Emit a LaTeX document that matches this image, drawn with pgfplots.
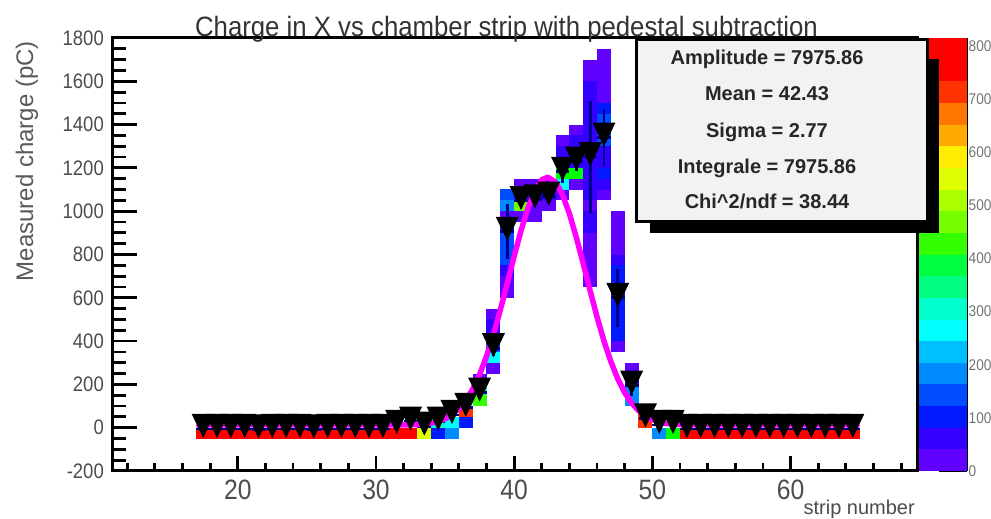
\documentclass[border=0pt]{standalone}
\usepackage{fontspec}
\setmainfont{Liberation Sans}
\newfontfamily\tickfont[FakeStretch=0.88]{Liberation Sans}
\newfontfamily\titlefont[FakeStretch=0.92]{Liberation Sans}
\usepackage{pgfplots}
\usepackage{pgfplotstable}
\pgfplotsset{compat=1.18}
\definecolor{navyerr}{RGB}{0,0,140}
\definecolor{fitmag}{RGB}{255,0,255}
\pgfplotsset{
  colormap={rootpal}{rgb255=(96,0,255) rgb255=(51,0,255) rgb255=(0,25,255) rgb255=(0,76,255)
    rgb255=(0,140,255) rgb255=(0,191,255) rgb255=(0,255,255) rgb255=(0,255,204)
    rgb255=(0,255,128) rgb255=(0,255,64) rgb255=(0,255,0) rgb255=(51,255,0)
    rgb255=(119,255,0) rgb255=(170,255,0) rgb255=(221,255,0) rgb255=(255,238,0)
    rgb255=(255,170,0) rgb255=(255,119,0) rgb255=(255,51,0) rgb255=(255,0,0) rgb255=(255,0,0)},
  colormap access=piecewise constant,
}
\pgfdeclareplotmark{cell}{\pgfpathrectangle{\pgfqpoint{-6.96pt}{-5.46pt}}{\pgfqpoint{13.92pt}{10.92pt}}\pgfusepathqfill}
\pgfdeclareplotmark{pcell}{\pgfpathrectangle{\pgfqpoint{-24pt}{-10.9pt}}{\pgfqpoint{48pt}{21.8pt}}\pgfusepathqfill}
\pgfdeclareplotmark{rtri}{\pgfpathmoveto{\pgfqpoint{-11.5pt}{15pt}}\pgfpathlineto{\pgfqpoint{11.5pt}{15pt}}\pgfpathlineto{\pgfqpoint{0pt}{-9pt}}\pgfpathclose\pgfusepathqfill}

% 2D histogram cells: strip bin centre, charge bin centre, entries
\pgfplotstableread{
x y c
17.5 -25 800
18.5 -25 800
19.5 -25 800
20.5 -25 800
21.5 -25 800
22.5 -25 800
23.5 -25 800
24.5 -25 800
25.5 -25 800
26.5 -25 800
27.5 -25 800
28.5 -25 800
29.5 -25 800
30.5 -25 800
31.5 -25 800
32.5 -25 800
33.5 -25 550
34.5 -25 100
34.5 25 300
35.5 25 265
35.5 -25 180
36.5 75 710
36.5 25 100
37.5 125 430
37.5 175 300
37.5 225 20
38.5 275 20
38.5 325 265
38.5 375 140
38.5 425 60
38.5 475 60
38.5 525 20
39.5 625 20
39.5 675 20
39.5 725 60
39.5 775 140
39.5 825 140
39.5 875 140
39.5 925 100
39.5 975 20
39.5 1025 180
39.5 1075 140
40.5 975 20
40.5 1025 470
40.5 1075 60
40.5 1125 20
41.5 975 20
41.5 1025 20
41.5 1075 60
41.5 1125 20
42.5 1025 20
42.5 1075 60
42.5 1125 20
43.5 1075 20
43.5 1125 265
43.5 1175 390
43.5 1225 60
43.5 1275 60
43.5 1325 20
44.5 1125 20
44.5 1175 390
44.5 1225 60
44.5 1275 60
44.5 1325 60
44.5 1375 20
45.5 675 20
45.5 725 20
45.5 775 20
45.5 825 20
45.5 875 20
45.5 925 60
45.5 975 60
45.5 1025 20
45.5 1075 60
45.5 1125 60
45.5 1175 60
45.5 1225 60
45.5 1275 60
45.5 1325 60
45.5 1375 60
45.5 1425 60
45.5 1475 60
45.5 1525 60
45.5 1575 60
45.5 1625 20
45.5 1675 20
46.5 1075 20
46.5 1125 60
46.5 1175 100
46.5 1225 60
46.5 1275 60
46.5 1325 140
46.5 1375 140
46.5 1425 140
46.5 1475 100
46.5 1525 20
46.5 1575 20
46.5 1625 20
46.5 1675 20
46.5 1725 20
47.5 375 20
47.5 425 100
47.5 475 100
47.5 525 100
47.5 575 100
47.5 625 100
47.5 675 100
47.5 725 100
47.5 775 60
47.5 825 20
47.5 875 20
47.5 925 20
47.5 975 20
48.5 125 180
48.5 175 180
48.5 225 60
48.5 275 20
49.5 25 710
49.5 75 710
50.5 -25 180
51.5 -25 390
52.5 -25 800
53.5 -25 800
54.5 -25 800
55.5 -25 800
56.5 -25 800
57.5 -25 800
58.5 -25 800
59.5 -25 800
60.5 -25 800
61.5 -25 800
62.5 -25 800
63.5 -25 800
64.5 -25 800
}\cells

% measured charge per strip with errors
\pgfplotstableread{
x y ey
17.5 -6 15
18.5 -6 15
19.5 -6 15
20.5 -6 15
21.5 -8 15
22.5 -6 15
23.5 -6 15
24.5 -6 15
25.5 -8 15
26.5 -6 15
27.5 -6 15
28.5 -6 15
29.5 -6 15
30.5 -6 15
31.5 12.5 15
32.5 27.7 15
33.5 5 15
34.5 27.7 15
35.5 58.7 15
36.5 92 20
37.5 162 30
38.5 367 35
39.5 905 128
40.5 1047 35
41.5 1055 35
42.5 1067 30
43.5 1182 50
44.5 1229 45
45.5 1250 258
46.5 1340 132
47.5 600 134
48.5 194 46
49.5 43 20
50.5 12.5 15
51.5 12.5 15
52.5 -6 15
53.5 -6 15
54.5 -6 15
55.5 -6 15
56.5 -6 15
57.5 -6 15
58.5 -6 15
59.5 -6 15
60.5 -6 15
61.5 -6 15
62.5 -6 15
63.5 -6 15
64.5 -6 15
}\markers

\pgfplotstableread{
x y c
0.5 20.375 20.375
0.5 61.125 61.125
0.5 101.875 101.875
0.5 142.625 142.625
0.5 183.375 183.375
0.5 224.125 224.125
0.5 264.875 264.875
0.5 305.625 305.625
0.5 346.375 346.375
0.5 387.125 387.125
0.5 427.875 427.875
0.5 468.625 468.625
0.5 509.375 509.375
0.5 550.125 550.125
0.5 590.875 590.875
0.5 631.625 631.625
0.5 672.375 672.375
0.5 713.125 713.125
0.5 753.875 753.875
0.5 794.625 794.625
}\palette

\begin{document}
\begin{tikzpicture}
% frame, x ticks and the 2D histogram
\begin{axis}[
  at={(112pt,48pt)}, anchor=south west, scale only axis,
  width=805pt, height=433pt,
  xmin=10.9, xmax=69.15, ymin=-200, ymax=1800,
  axis line style={line width=3pt},
  xtick={20,30,40,50,60},
  minor xtick={12,14,16,18,22,24,26,28,32,34,36,38,42,44,46,48,52,54,56,58,62,64,66,68},
  ytick=\empty,
  xtick pos=left,
  tick align=inside,
  major tick length=15pt, minor tick length=7.7pt,
  tick style={line width=2.8pt, black},
  /pgf/number format/assume math mode=true,
  /pgf/number format/1000 sep={},
  xticklabel style={font=\tickfont\fontsize{28}{28}\selectfont, text=black!70, inner sep=0pt, yshift=-9pt},
  point meta min=0, point meta max=815,
]
\addplot[scatter, only marks, mark=cell, scatter src=explicit] table[x=x, y=y, meta=c] \cells;
\end{axis}
% y ticks, markers, error bars and the fit (overlay with identical limits)
\begin{axis}[
  at={(112pt,48pt)}, anchor=south west, scale only axis,
  width=805pt, height=433pt,
  xmin=10.9, xmax=69.15, ymin=-200, ymax=1800,
  axis line style={draw=none},
  xtick=\empty,
  ytick={-200,0,200,400,600,800,1000,1200,1400,1600,1800},
  minor ytick={-150,-100,-50,50,100,150,250,300,350,450,500,550,650,700,750,850,900,950,1050,1100,1150,1250,1300,1350,1450,1500,1550,1650,1700,1750},
  ytick pos=left, tick align=inside,
  major tick length=25pt, minor tick length=14pt,
  tick style={line width=2.8pt, black},
  /pgf/number format/assume math mode=true,
  /pgf/number format/1000 sep={},
  yticklabel style={font=\tickfont\fontsize{21}{21}\selectfont, text=black!70, inner sep=0pt, xshift=-8pt},
]
\addplot[only marks, mark=rtri, black] table[x=x, y=y] \markers;
\addplot[draw=none, mark=none,
  error bars/.cd, y dir=both, y explicit, x dir=both, x fixed=0.5, error mark=none,
  error bar style={line width=2.7pt, draw=navyerr, solid}]
  table[x=x, y=y, y error=ey] \markers;
\addplot[fitmag, line width=5.5pt, mark=none, line join=round] coordinates {
(17,13) (32,13) (32.5,13.5) (33,14.5) (33.5,17) (34,21) (34.5,29) (35,41.5) (35.5,60)
(36,88) (36.5,126) (37,178) (37.5,246) (38,330) (38.5,430) (39,544) (39.5,667)
(40,792) (40.5,911) (41,1015) (41.5,1096) (42,1145) (42.43,1157) (43,1135) (43.5,1076)
(44,988) (44.5,879) (45,757) (45.5,632) (46,511) (46.5,400) (47,305) (47.5,225)
(48,162) (48.5,114) (49,79) (49.5,54) (50,37.5) (50.5,26.5) (51,19.6) (51.5,16)
(52,14.5) (52.5,13.5) (53,13) (65,13)};
\end{axis}
% palette
\begin{axis}[
  at={(919pt,48pt)}, anchor=south west, scale only axis,
  width=48pt, height=433pt,
  xmin=0, xmax=1, ymin=0, ymax=815,
  axis x line=none, axis y line*=right,
  axis on top,
  axis line style={line width=2.8pt},
  ytick={0,100,200,300,400,500,600,700,800},
  tick align=inside,
  major tick length=28pt,
  tick style={line width=2.8pt, black},
  /pgf/number format/assume math mode=true,
  yticklabel style={font=\tickfont\fontsize{15.5}{15.5}\selectfont, text=black!55, inner sep=0pt, xshift=1.5pt, anchor=west},
  point meta min=0, point meta max=815,
]
\addplot[scatter, only marks, mark=pcell, scatter src=explicit] table[x=x, y=y, meta=c] \palette;
\end{axis}
% statistics box
\fill[black] (650pt,286pt) rectangle (939pt,460pt);
\draw[line width=3pt, fill=gray!10] (636pt,297pt) rectangle (927pt,479pt);
\begin{scope}[every node/.style={anchor=base, inner sep=0pt, text=black!85, font=\bfseries\fontsize{20}{20}\selectfont}]
\node at (767pt,454pt) {Amplitude = 7975.86};
\node at (767pt,418.5pt) {Mean = 42.43};
\node at (767pt,381.5pt) {Sigma = 2.77};
\node at (767pt,345.5pt) {Integrale = 7975.86};
\node at (767pt,310.5pt) {Chi\textasciicircum2/ndf = 38.44};
\end{scope}
% titles
\node[anchor=base, inner sep=0pt, text=black!80, font=\titlefont\fontsize{28}{28}\selectfont] at (506.5pt,482.5pt) {Charge in X vs chamber strip with pedestal subtraction};
\node[anchor=base east, inner sep=0pt, text=black!70, font=\fontsize{20}{20}\selectfont] at (915pt,4.5pt) {strip number};
\node[rotate=90, anchor=base east, inner sep=0pt, text=black!65, font=\fontsize{24}{24}\selectfont] at (33pt,478pt) {Measured charge (pC)};
\pgfresetboundingbox
\path[use as bounding box] (0pt,0pt) rectangle (991pt,519pt);
\end{tikzpicture}
\end{document}
